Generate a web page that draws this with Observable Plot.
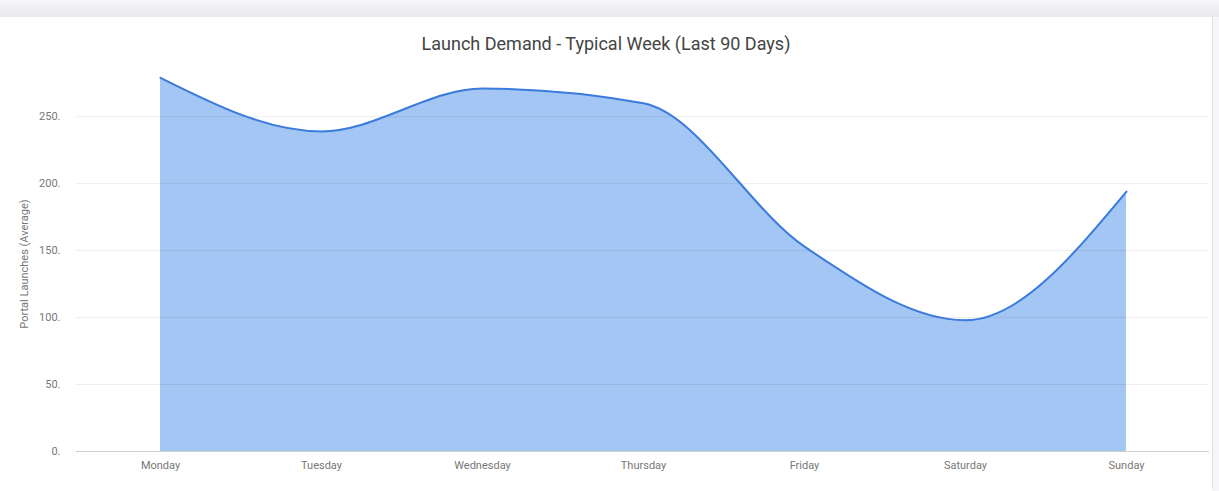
<!DOCTYPE html>
<html>
<head>
<meta charset="utf-8">
<script src="https://cdn.jsdelivr.net/npm/d3@7"></script>
<script src="https://cdn.jsdelivr.net/npm/@observablehq/plot@0.6"></script>
<style>
  html, body { margin: 0; padding: 0; }
  body { width: 1219px; height: 491px; background: #f6f6f8; position: relative; overflow: hidden; font-family: Roboto, "Noto Sans", sans-serif; }
  #band { position: absolute; left: 0; top: 4px; width: 1219px; height: 13px; background: linear-gradient(#f3f3f5, #e9e9ec); }
  #card { position: absolute; left: 0; top: 17px; width: 1212px; height: 470px; background: #fff; border-right: 1px solid #e2e2e4; border-bottom: 1px solid #e2e2e4; }
  #title { height: 41px; box-sizing: border-box; padding-top: 16px; line-height: 22px; text-align: center; font-size: 18px; color: #444; }
  #chart svg { display: block; }
</style>
</head>
<body>
<div id="band"></div>
<div id="card">
  <div id="title">Launch Demand - Typical Week (Last 90 Days)</div>
  <div id="chart"></div>
</div>
<script>
const days = ["Monday", "Tuesday", "Wednesday", "Thursday", "Friday", "Saturday", "Sunday"];
const launches = [279, 239, 271, 260, 153, 98, 194];
const yTicks = [0, 50, 100, 150, 200, 250];

const data = days.map((d, i) => ({day: d, value: launches[i]}));

const chart = Plot.plot({
  width: 1212,
  height: 433,
  marginLeft: 76,
  marginRight: 3,
  marginTop: 18,
  marginBottom: 40,
  style: {fontFamily: "Roboto, 'Noto Sans', sans-serif", fontSize: "11px", color: "#777", background: "#fff"},
  x: {type: "point", domain: days, padding: 0.5, label: null, tickSize: 0, tickPadding: 10},
  y: {domain: [0, 280], ticks: yTicks, tickFormat: d => d + ".", tickSize: 0, tickPadding: 16,
      label: "Portal Launches (Average)", labelAnchor: "center", labelArrow: "none", labelOffset: 56},
  marks: [
    Plot.areaY(data, {x: "day", y: "value", curve: "monotone-x", fill: "#a3c6f4"}),
    Plot.gridY(yTicks.filter(t => t > 0), {stroke: "#000", strokeOpacity: 0.07}),
    Plot.ruleY([0], {stroke: "#cfcfcf"}),
    Plot.lineY(data, {x: "day", y: "value", curve: "monotone-x", stroke: "#3a7bdc", strokeWidth: 2})
  ]
});
document.getElementById("chart").appendChild(chart);
</script>
</body>
</html>
